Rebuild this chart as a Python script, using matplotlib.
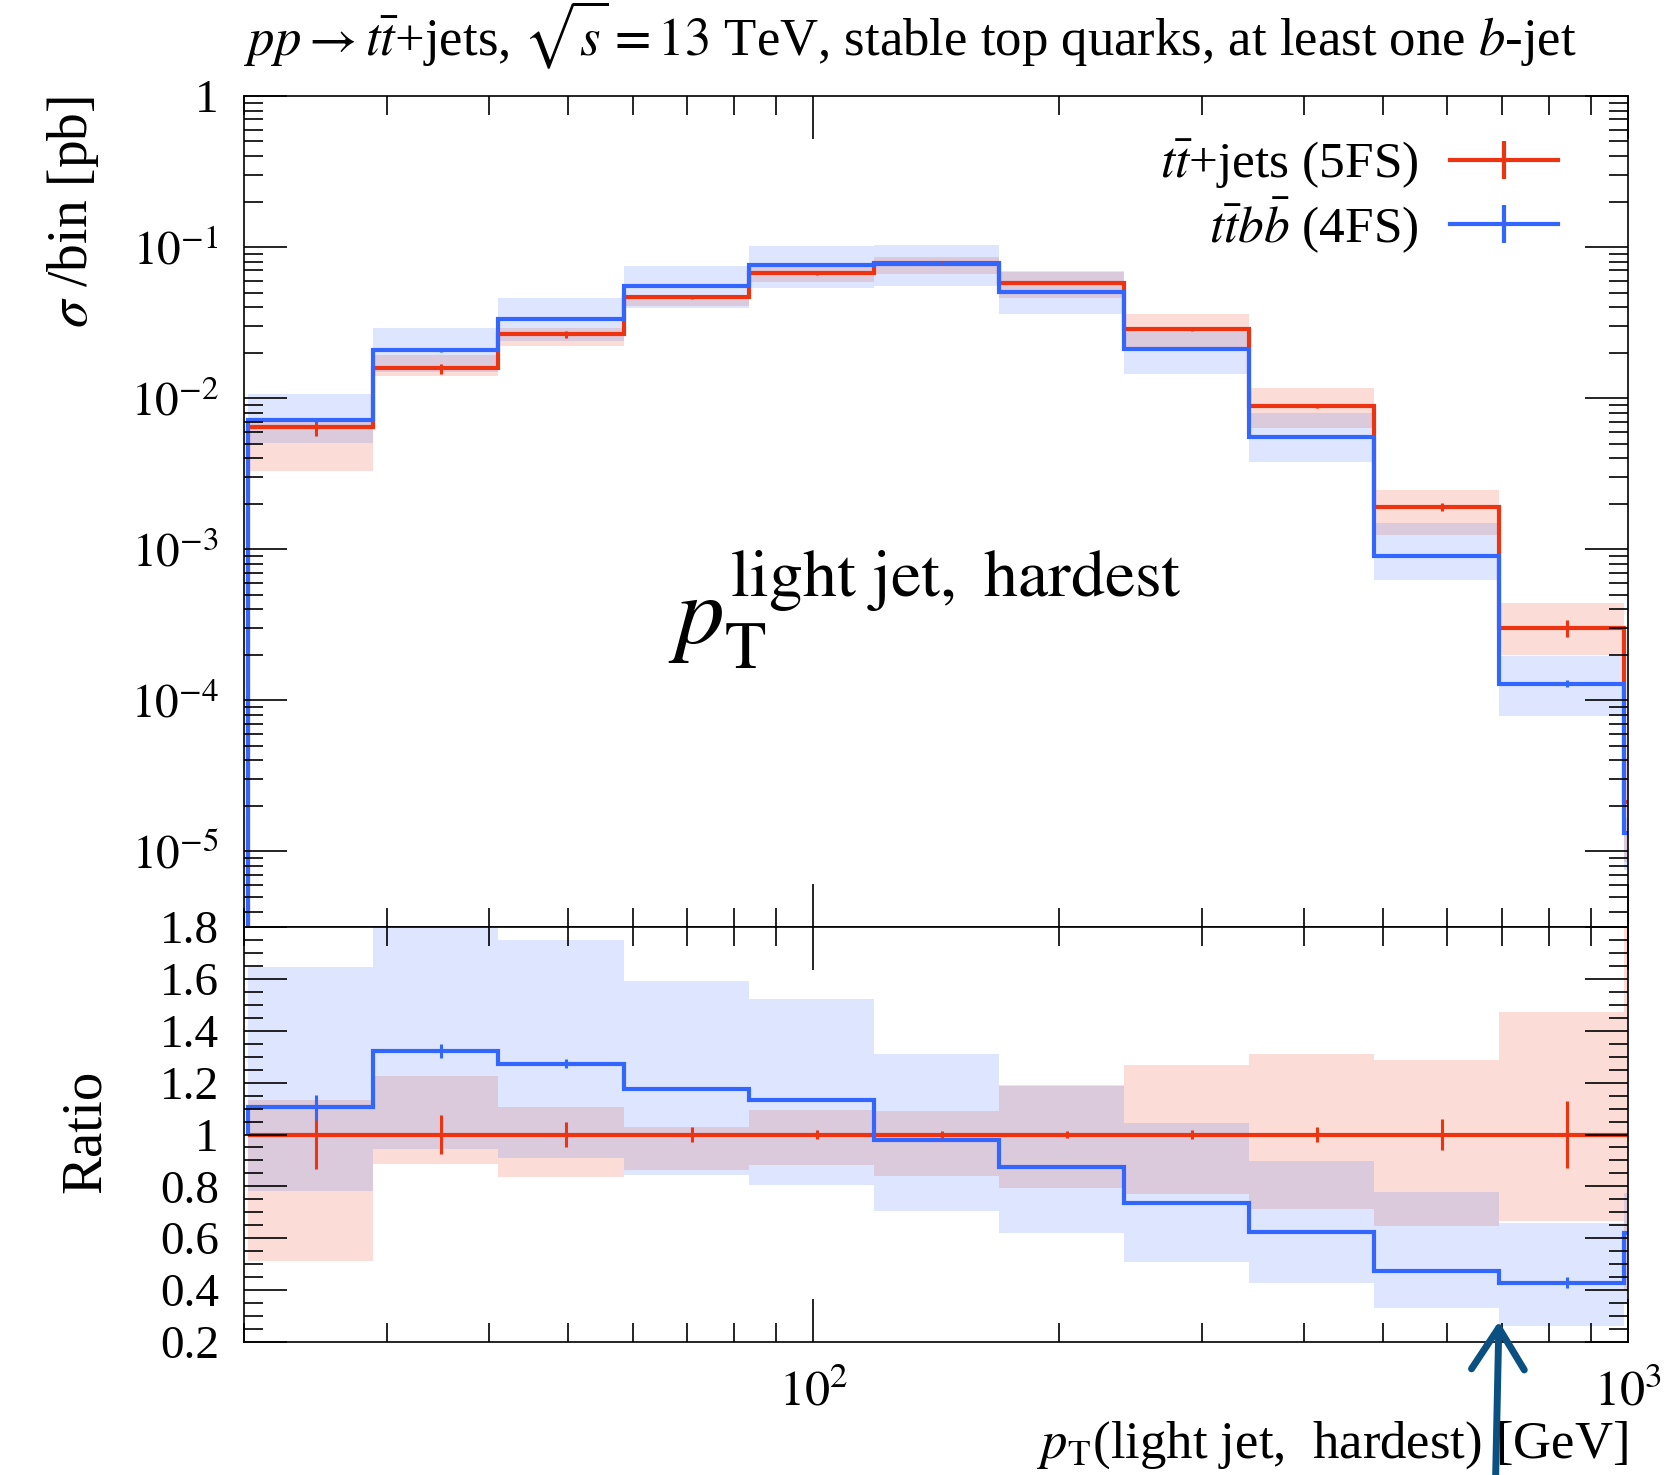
import matplotlib
matplotlib.use('Agg')
import matplotlib.pyplot as plt
import numpy as np
from matplotlib.lines import Line2D
from matplotlib.ticker import FixedLocator, LogLocator, MultipleLocator, FuncFormatter, NullFormatter

plt.rcParams['font.family'] = ['Liberation Serif', 'DejaVu Serif']
plt.rcParams['mathtext.fontset'] = 'stix'

# --- bin edges [GeV] ---
edges = np.array([20.2, 28.8, 41.0, 58.5, 83.3, 118.7, 169.0, 240.6,
                  342.9, 488.3, 694.3, 988.9, 1408.0])

# --- sigma/bin [pb] ---
xs_5fs = np.array([6.46e-3, 1.573e-2, 2.64e-2, 4.69e-2, 6.70e-2, 7.87e-2,
                   5.80e-2, 2.85e-2, 8.85e-3, 1.91e-3, 3.01e-4, 2.14e-5])
xs_4fs = np.array([7.14e-3, 2.08e-2, 3.36e-2, 5.52e-2, 7.60e-2, 7.69e-2,
                   5.07e-2, 2.10e-2, 5.52e-3, 9.03e-4, 1.29e-4, 1.33e-5])

# --- relative statistical errors ---
err_5fs = np.array([0.133, 0.075, 0.048, 0.028, 0.019, 0.014,
                    0.014, 0.019, 0.030, 0.058, 0.130, 0.200])
err_4fs = np.array([0.043, 0.021, 0.013, 0.006, 0.005, 0.004,
                    0.004, 0.004, 0.005, 0.010, 0.050, 0.060])

# --- uncertainty bands, relative to the 5FS central value ---
band5_lo = np.array([0.513, 0.888, 0.836, 0.863, 0.883, 0.840,
                     0.795, 0.769, 0.712, 0.647, 0.667, 0.400])
band5_hi = np.array([1.132, 1.227, 1.105, 1.030, 1.095, 1.090,
                     1.188, 1.269, 1.310, 1.288, 1.474, 1.950])
band4_lo = np.array([0.782, 0.945, 0.910, 0.842, 0.805, 0.705,
                     0.619, 0.510, 0.426, 0.330, 0.263, 0.350])
band4_hi = np.array([1.644, 1.840, 1.750, 1.592, 1.522, 1.310,
                     1.190, 1.045, 0.897, 0.777, 0.658, 0.776])

labels = [r'$t\bar{t}$+jets (5FS)', r'$t\bar{t}b\bar{b}$ (4FS)']
RED = '#ee3311'
BLUE = '#3366ff'

centers = 0.5 * (edges[:-1] + edges[1:])
ratio_5 = np.ones_like(xs_5fs)
ratio_4 = xs_4fs / xs_5fs

W, H = 1681, 1475
fig = plt.figure(figsize=(W / 100, H / 100), dpi=100)
left, right = 244 / W, 1628 / W
ax = fig.add_axes([left, 1 - 927 / H, right - left, (927 - 96) / H])
axr = fig.add_axes([left, 1 - 1342 / H, right - left, (1342 - 927) / H], sharex=ax)

# --- main panel ---
ax.stairs(band5_hi * xs_5fs, edges, baseline=band5_lo * xs_5fs, fill=True,
          color=RED, alpha=0.17, lw=0)
ax.stairs(band4_hi * xs_5fs, edges, baseline=band4_lo * xs_5fs, fill=True,
          color=BLUE, alpha=0.16, lw=0)
ax.stairs(xs_5fs, edges, baseline=1e-12, color=RED, lw=3.0)
ax.stairs(xs_4fs, edges, baseline=1e-12, color=BLUE, lw=3.0)
ax.errorbar(centers, xs_5fs, yerr=xs_5fs * err_5fs, fmt='none', ecolor=RED, elinewidth=2.2)
ax.errorbar(centers, xs_4fs, yerr=xs_4fs * err_4fs, fmt='none', ecolor=BLUE, elinewidth=2.2)

ax.set_xscale('log')
ax.set_yscale('log')
ax.set_xlim(20, 1000)
ax.set_ylim(10 ** -5.5, 1)

# --- ratio panel ---
axr.stairs(band5_hi, edges, baseline=band5_lo, fill=True, color=RED, alpha=0.17, lw=0)
axr.stairs(band4_hi, edges, baseline=band4_lo, fill=True, color=BLUE, alpha=0.16, lw=0)
axr.stairs(ratio_5, edges, baseline=1.0, color=RED, lw=3.0)
axr.stairs(ratio_4, edges, baseline=1.0, color=BLUE, lw=3.0)
axr.errorbar(centers, ratio_5, yerr=err_5fs, fmt='none', ecolor=RED, elinewidth=2.2)
axr.errorbar(centers, ratio_4, yerr=ratio_4 * err_4fs, fmt='none', ecolor=BLUE, elinewidth=2.2)
axr.set_ylim(0.2, 1.8)

# --- ticks ---
for a in (ax, axr):
    a.xaxis.set_major_locator(FixedLocator([100, 1000]))
    a.xaxis.set_minor_locator(LogLocator(base=10, subs=np.arange(2, 10), numticks=20))
    a.tick_params(which='both', direction='in', top=True, right=True, width=1.2)
    a.tick_params(which='major', length=31)
    a.tick_params(which='minor', length=14)
    for s in a.spines.values():
        s.set_linewidth(1.2)

ax.yaxis.set_major_locator(LogLocator(base=10, numticks=20))
ax.yaxis.set_minor_locator(LogLocator(base=10, subs=np.arange(2, 10), numticks=20))
ax.yaxis.set_major_formatter(FuncFormatter(
    lambda v, p: '1' if abs(v - 1) < 1e-9 else r'$10^{%d}$' % round(np.log10(v))))
ax.yaxis.set_minor_formatter(NullFormatter())
ax.tick_params(axis='y', which='major', labelsize=34, pad=18)
ax.tick_params(axis='x', which='both', labelbottom=False)

axr.yaxis.set_major_locator(MultipleLocator(0.2))
axr.yaxis.set_minor_locator(MultipleLocator(0.05))
axr.yaxis.set_major_formatter(FuncFormatter(lambda v, p: '%g' % round(v, 2)))
axr.tick_params(axis='y', which='major', labelsize=34, pad=18)
axr.xaxis.set_major_formatter(FuncFormatter(lambda v, p: r'$10^{%d}$' % round(np.log10(v))))
axr.xaxis.set_minor_formatter(NullFormatter())
axr.tick_params(axis='x', which='major', labelsize=36, pad=20)

# --- texts ---
fig.text(left, 1 - 55 / H,
         r'$pp \rightarrow t\bar{t}$+jets, $\sqrt{s} = 13$ TeV, stable top quarks, at least one $b$-jet',
         fontsize=38, ha='left', va='baseline')
fig.text(73 / W, 1 - 96 / H, r'$\sigma$ /bin [pb]', rotation=90, fontsize=40,
         ha='center', va='top')
fig.text(86 / W, 1 - 1131 / H, 'Ratio', rotation=90, fontsize=41, ha='center', va='center')
fig.text(right, 1 - 1458 / H, r'$p_{\mathrm{T}}$(light jet,  hardest) [GeV]', fontsize=38,
         ha='right', va='baseline')
ax.text(0.492, 0.342, r'$p_{\mathrm{T}}^{\mathrm{light\ jet,\ hardest}}$', transform=ax.transAxes,
        fontsize=70, ha='center', va='baseline')

# --- legend ---
handles = [Line2D([], [], color=c, lw=3, marker='|', markersize=28, mew=3)
           for c in (RED, BLUE)]
ax.legend(handles, labels, loc='upper right', bbox_to_anchor=(0.964, 0.975),
          borderaxespad=0, frameon=False, markerfirst=False, fontsize=37,
          handlelength=2.1, handletextpad=0.6, labelspacing=0.08, numpoints=1)

# --- hand-drawn arrow ---
axr.annotate('', xy=(edges[10], 0.28), xycoords='data',
             xytext=(edges[10] * 0.99, -0.01), textcoords=('data', 'figure fraction'),
             arrowprops=dict(arrowstyle='->,head_length=1.5,head_width=0.95', color='#0a5080',
                             lw=5, mutation_scale=20, shrinkA=0, shrinkB=0),
             annotation_clip=False)

fig.savefig('out.png', dpi=100)
